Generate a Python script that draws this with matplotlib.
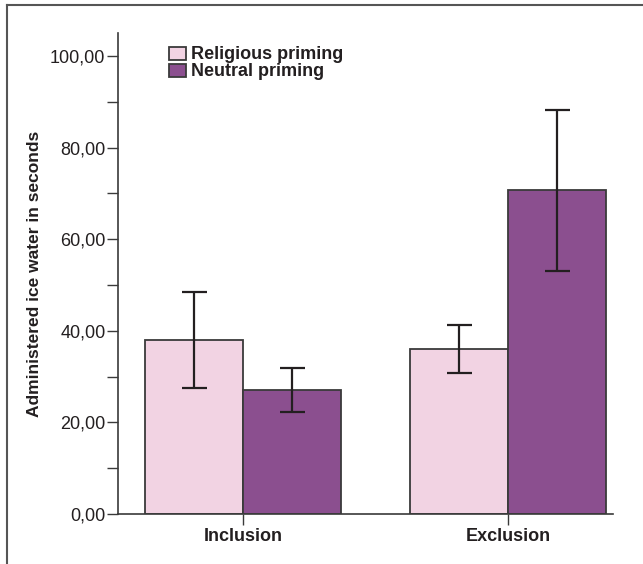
import matplotlib.pyplot as plt
import matplotlib.lines as mlines
import numpy as np
from matplotlib.ticker import FuncFormatter, MultipleLocator

plt.rcParams['font.family'] = ['Liberation Sans', 'DejaVu Sans']

# data
groups = ['Inclusion', 'Exclusion']
series = ['Religious priming', 'Neutral priming']
means = [[38.0, 36.1], [27.1, 70.7]]
ci_low = [[27.6, 30.8], [22.3, 53.1]]
ci_high = [[48.5, 41.3], [31.9, 88.1]]
colors = ['#F2D3E3', '#8B4F8F']

fig = plt.figure(figsize=(6.43, 5.64), dpi=100)
ax = fig.add_axes([0.1835, 0.0887, 0.7695, 0.8528])

x = np.arange(len(groups))
width = 0.37
for i, name in enumerate(series):
    pos = x + (i - 0.5) * width
    m = np.array(means[i])
    err = [m - np.array(ci_low[i]), np.array(ci_high[i]) - m]
    ax.bar(pos, m, width, color=colors[i], edgecolor='#3a3a3a',
           linewidth=1.3, label=name, zorder=2)
    ax.errorbar(pos, m, yerr=err, fmt='none', ecolor='#231f20',
                elinewidth=1.6, capsize=9, capthick=1.6, zorder=3)

# axes
ax.set_xlim(-0.472, 1.396)
ax.set_ylim(0, 105)
ax.set_xticks(x)
ax.set_xticklabels(groups, fontsize=13, fontweight='bold', color='#231f20')
ax.yaxis.set_major_locator(MultipleLocator(20))
ax.yaxis.set_minor_locator(MultipleLocator(10))
ax.yaxis.set_major_formatter(FuncFormatter(lambda v, p: f'{v:.2f}'.replace('.', ',')))
ax.tick_params(axis='y', labelsize=13, length=8, width=1, color='#3a3a3a',
               labelcolor='#231f20', pad=1)
ax.tick_params(axis='y', which='minor', length=8, width=1, color='#3a3a3a')
ax.tick_params(axis='x', length=8, width=1, color='#3a3a3a', pad=2)
ax.spines['top'].set_visible(False)
ax.spines['right'].set_visible(False)
for s in ['left', 'bottom']:
    ax.spines[s].set_color('#3a3a3a')
    ax.spines[s].set_linewidth(1.2)

ax.set_ylabel('Administered ice water in seconds', fontsize=12.5, fontweight='bold',
              color='#231f20', labelpad=6)

# legend
leg = ax.legend(loc='upper left', bbox_to_anchor=(0.103, 0.972), frameon=False,
                fontsize=13, handlelength=0.95, handleheight=0.75,
                handletextpad=0.25, labelspacing=0.0, borderaxespad=0,
                borderpad=0)
for t in leg.get_texts():
    t.set_fontweight('bold')
    t.set_color('#231f20')

# figure frame (top and left)
fig.add_artist(mlines.Line2D([7 / 643, 1], [1 - 5 / 564] * 2, color='#555555', lw=1.5))
fig.add_artist(mlines.Line2D([7 / 643] * 2, [0, 1 - 5 / 564], color='#555555', lw=1.5))

plt.savefig('out.png', dpi=100)
